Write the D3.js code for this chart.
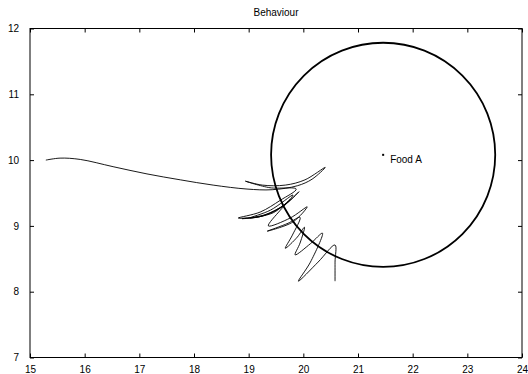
<!DOCTYPE html>
<html>
<head>
<meta charset="utf-8">
<script src="https://cdn.jsdelivr.net/npm/d3@7/dist/d3.min.js"></script>
<style>
  body { margin: 0; background: #fff; }
  text { font-family: "Liberation Sans", Arial, sans-serif; font-size: 10px; fill: #000; }
</style>
</head>
<body>
<svg id="chart" width="528" height="374"></svg>
<script>
"use strict";

const TITLE = "Behaviour";
const X_TICKS = [15, 16, 17, 18, 19, 20, 21, 22, 23, 24];
const Y_TICKS = [7, 8, 9, 10, 11, 12];

// food source and its sensing radius (radius in x units)
const FOOD_LABEL = "Food A";
const FOOD_X = 21.46;
const FOOD_Y = 10.08;
const FOOD_RADIUS = 2.05;

// trajectory of the agent
const PATH_X = [15.29, 15.55, 15.92, 16.52, 17.14, 17.75, 18.35, 18.97, 19.43, 19.89, 20.16, 20.40,
    20.03, 19.67, 19.25, 18.94, 19.39, 19.87, 19.58, 19.21, 18.81, 19.25, 19.63, 19.92,
    19.67, 19.25, 18.88, 19.30, 19.67, 19.81, 19.40, 19.02, 19.45, 19.76,
    19.58, 19.36, 19.76, 20.07, 19.81, 19.34,
    19.72, 19.94, 19.80, 19.67, 19.89, 20.02, 19.94, 19.85, 20.13, 20.35, 20.13, 19.91,
    20.27, 20.58, 20.58, 20.58];
const PATH_Y = [10.00, 10.03, 10.01, 9.90, 9.79, 9.70, 9.62, 9.56, 9.55, 9.61, 9.71, 9.89,
    9.70, 9.62, 9.62, 9.68, 9.58, 9.56, 9.39, 9.21, 9.12, 9.15, 9.30, 9.52,
    9.33, 9.15, 9.11, 9.17, 9.33, 9.47, 9.24, 9.12, 9.20, 9.40,
    9.24, 9.00, 9.12, 9.29, 9.06, 8.92,
    9.04, 9.13, 8.86, 8.66, 8.83, 8.98, 8.74, 8.56, 8.73, 8.89, 8.45, 8.16,
    8.45, 8.71, 8.45, 8.16];

const margin = { top: 28.5, left: 30, right: 6, bottom: 16.5 };
const svg = d3.select("#chart");
const width = +svg.attr("width");
const height = +svg.attr("height");

const x = d3.scaleLinear().domain([15, 24]).range([margin.left, width - margin.right]);
const y = d3.scaleLinear().domain([7, 12]).range([height - margin.bottom, margin.top]);

// title
svg.append("text")
    .attr("x", (x(15) + x(24)) / 2)
    .attr("y", 15.5)
    .attr("text-anchor", "middle")
    .text(TITLE);

// inward ticks on all four sides
function styleAxis(g) {
    g.select(".domain").remove();
    g.selectAll("line").attr("stroke", "#000");
    g.selectAll("text").style("font-size", "10px").style("font-family", "'Liberation Sans', Arial, sans-serif");
}

svg.append("g")
    .attr("transform", `translate(0, ${y(7)})`)
    .call(d3.axisBottom(x).tickValues(X_TICKS).tickSize(-4).tickPadding(8).tickFormat(d3.format("d")))
    .call(styleAxis);
svg.append("g")
    .attr("transform", `translate(0, ${y(12)})`)
    .call(d3.axisTop(x).tickValues(X_TICKS).tickSize(-4).tickFormat(""))
    .call(styleAxis);
svg.append("g")
    .attr("transform", `translate(${x(15)}, 0)`)
    .call(d3.axisLeft(y).tickValues(Y_TICKS).tickSize(-4).tickPadding(11).tickFormat(d3.format("d")))
    .call(styleAxis);
svg.append("g")
    .attr("transform", `translate(${x(24)}, 0)`)
    .call(d3.axisRight(y).tickValues(Y_TICKS).tickSize(-4).tickFormat(""))
    .call(styleAxis);

// frame
svg.append("rect")
    .attr("x", x(15))
    .attr("y", y(12))
    .attr("width", x(24) - x(15))
    .attr("height", y(7) - y(12))
    .attr("fill", "none")
    .attr("stroke", "#000")
    .attr("stroke-width", 1);

// food circle
svg.append("circle")
    .attr("cx", x(FOOD_X))
    .attr("cy", y(FOOD_Y))
    .attr("r", x(FOOD_X + FOOD_RADIUS) - x(FOOD_X))
    .attr("fill", "none")
    .attr("stroke", "#000")
    .attr("stroke-width", 1.8);

svg.append("rect")
    .attr("x", x(FOOD_X) - 1)
    .attr("y", y(FOOD_Y) - 1)
    .attr("width", 2)
    .attr("height", 2)
    .attr("fill", "#000");

svg.append("text")
    .attr("x", x(FOOD_X) + 7)
    .attr("y", y(FOOD_Y) + 8.5)
    .text(FOOD_LABEL);

// trajectory
const pts = PATH_X.map((d, i) => [d, PATH_Y[i]]);
svg.append("path")
    .datum(pts)
    .attr("d", d3.line().x(d => x(d[0])).y(d => y(d[1])).curve(d3.curveCatmullRom.alpha(0.5)))
    .attr("fill", "none")
    .attr("stroke", "#000")
    .attr("stroke-width", 0.9);
</script>
</body>
</html>
